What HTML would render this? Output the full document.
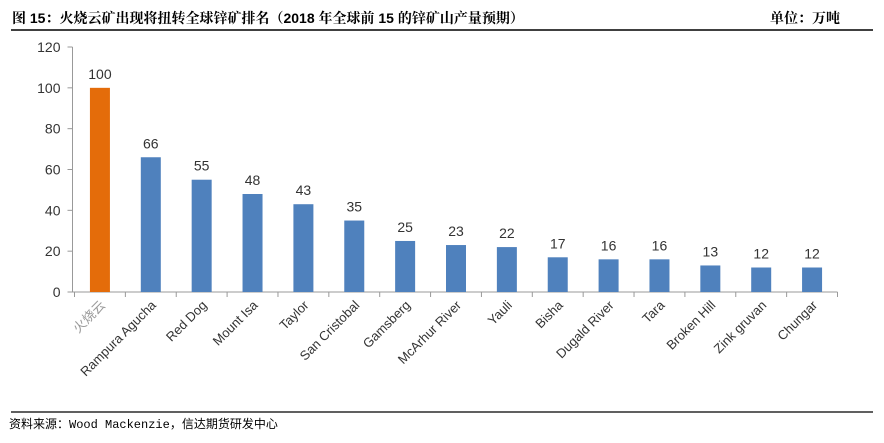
<!DOCTYPE html>
<html><head><meta charset="utf-8"><style>
body{margin:0;width:884px;height:438px;background:#fff;overflow:hidden;font-family:"Liberation Sans","Noto Sans CJK SC",sans-serif}
</style></head><body>
<svg width="884" height="438">
<text x="12" y="23" font-size="14" font-weight="bold" fill="#000" font-family="'Liberation Sans','Noto Serif CJK SC',serif">图 15：火烧云矿出现将扭转全球锌矿排名（2018 年全球前 15 的锌矿山产量预期）</text>
<text x="840" y="23" font-size="14" font-weight="bold" text-anchor="end" font-family="'Liberation Sans','Noto Serif CJK SC',serif">单位：万吨</text>
<line x1="11" y1="30" x2="873" y2="30" stroke="#000" stroke-width="1.5"/>
<line x1="11" y1="412" x2="873" y2="412" stroke="#000" stroke-width="1.2"/>
<text x="9" y="428" font-size="12" font-family="'Liberation Mono','Noto Sans CJK SC',monospace">资料来源：Wood Mackenzie，信达期货研发中心</text>
<g id="plot"></g>
</svg>
<script>
const categories=["火烧云","Rampura Agucha","Red Dog","Mount Isa","Taylor","San Cristobal","Gamsberg","McArhur River","Yauli","Bisha","Dugald River","Tara","Broken Hill","Zink gruvan","Chungar"];
const values=[100,66,55,48,43,35,25,23,22,17,16,16,13,12,12];
const yTicks=[0,20,40,60,80,100,120];
const NS="http://www.w3.org/2000/svg";
const g=document.getElementById('plot');
const x0=74.5,x1=837.5,y0=292,yTop=47,ymax=120;
const bw=(x1-x0)/categories.length;
const Y=v=>y0-(v/ymax)*(y0-yTop);
const X=i=>x0+bw*(i+0.5);
function el(t,a,txt){const e=document.createElementNS(NS,t);for(const k in a)e.setAttribute(k,a[k]);if(txt!==undefined)e.textContent=txt;g.appendChild(e);return e;}
const ya=el('line',{x1:x0-2,y1:yTop,x2:x0-2,y2:y0,stroke:'#999'});


yTicks.forEach(t=>{
 const l=el('line',{x1:x0-7,y1:Y(t),x2:x0-2,y2:Y(t),stroke:'#999'});
 
 
 const tx=el('text',{x:x0-14,y:Y(t)+5,'font-size':14,'text-anchor':'end',fill:'#333'},t);
 
 
});
const xa=el('line',{x1:x0-2,y1:y0,x2:x1,y2:y0,stroke:'#999'});


for(let i=0;i<=categories.length;i++){
 const l=el('line',{x1:x0+bw*i,y1:y0,x2:x0+bw*i,y2:y0+5,stroke:'#999'});
 
 
}
categories.forEach((c,i)=>{
 const b=el('rect',{x:X(i)-10,y:Y(values[i]),width:20,height:y0-Y(values[i]),fill:i===0?'#E46C0A':'#4F81BD'});
 
 
 const v=el('text',{x:X(i),y:Y(values[i])-9,'font-size':14,'text-anchor':'middle',fill:'#333'},values[i]);
 
 
 const cx=X(i)+6,cy=y0+14;
 const t=el('text',{x:cx,y:cy,'font-size':13,'text-anchor':'end',fill:i===0?'#999':'#333',transform:`rotate(-45 ${cx} ${cy})`},c);
 
 
});
</script>
</body></html>
